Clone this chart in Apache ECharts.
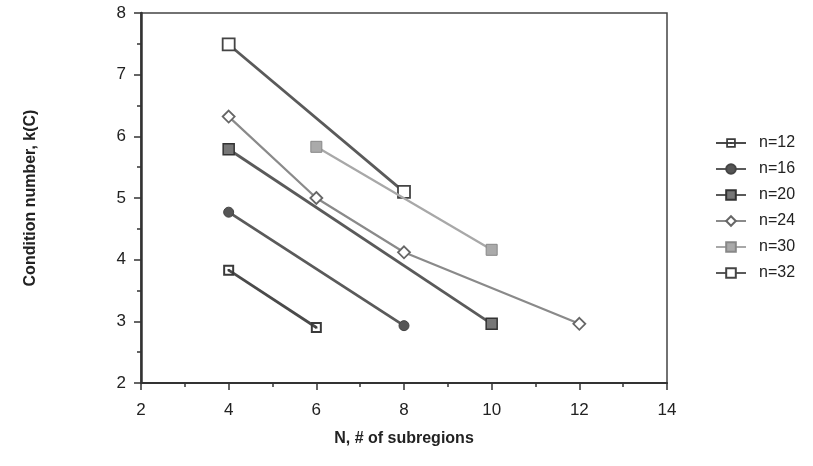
<!DOCTYPE html>
<html>
<head>
<meta charset="utf-8">
<script src="https://cdn.jsdelivr.net/npm/echarts@6/dist/echarts.min.js"></script>
<style>
  html, body { margin: 0; padding: 0; background: #fff; }
  #chart { width: 813px; height: 466px; }
</style>
</head>
<body>
<div id="chart"></div>
<script>
// Condition number k(C) versus number of subregions N, one line per problem size n
const seriesNames = ['n=12', 'n=16', 'n=20', 'n=24', 'n=30', 'n=32'];

const xN12 = [4, 6];
const yN12 = [3.83, 2.90];

const xN16 = [4, 8];
const yN16 = [4.77, 2.93];

const xN20 = [4, 10];
const yN20 = [5.79, 2.96];

const xN24 = [4, 6, 8, 12];
const yN24 = [6.32, 5.00, 4.12, 2.96];

const xN30 = [6, 10];
const yN30 = [5.83, 4.16];

const xN32 = [4, 8];
const yN32 = [7.49, 5.10];

const xTicks = [2, 4, 6, 8, 10, 12, 14];
const yTicks = [2, 3, 4, 5, 6, 7, 8];

const FONT = '"Liberation Sans", Arial, sans-serif';

function pairs(xs, ys) {
  return xs.map((x, i) => [x, ys[i]]);
}

// square outline with a small centre dot
const dotSquare = 'path://M0,0H10V10H0Z M1.8,1.8V8.2H8.2V1.8Z M4,4H6V6H4Z';

const styles = [
  { symbol: dotSquare, size: 11, line: '#4a4a4a', width: 2.8, fill: '#3a3a3a', border: '#3a3a3a', bw: 0 },
  { symbol: 'circle', size: 10, line: '#5a5a5a', width: 2.8, fill: '#555', border: '#444', bw: 1 },
  { symbol: 'rect', size: 11, line: '#5a5a5a', width: 2.8, fill: '#777', border: '#333', bw: 1.5 },
  { symbol: 'diamond', size: 12, line: '#8a8a8a', width: 2.2, fill: '#fff', border: '#666', bw: 1.8 },
  { symbol: 'rect', size: 11, line: '#a8a8a8', width: 2.2, fill: '#aaa', border: '#888', bw: 1 },
  { symbol: 'rect', size: 12, line: '#5a5a5a', width: 2.8, fill: '#fff', border: '#444', bw: 1.8 }
];

const dataSets = [
  pairs(xN12, yN12), pairs(xN16, yN16), pairs(xN20, yN20),
  pairs(xN24, yN24), pairs(xN30, yN30), pairs(xN32, yN32)
];

const series = seriesNames.map((name, i) => {
  const s = styles[i];
  return {
    name: name,
    type: 'line',
    data: dataSets[i],
    symbol: s.symbol,
    symbolSize: s.size,
    showAllSymbol: true,
    lineStyle: { color: s.line, width: s.width },
    itemStyle: { color: s.fill, borderColor: s.border, borderWidth: s.bw },
    z: 10 - i
  };
});

const chart = echarts.init(document.getElementById('chart'), null, { renderer: 'canvas' });

chart.setOption({
  backgroundColor: '#fff',
  animation: false,
  grid: {
    left: 141, right: 146, top: 13, bottom: 83,
    show: true, borderColor: '#444', borderWidth: 1.5, backgroundColor: 'transparent'
  },
  legend: {
    orient: 'vertical',
    left: 710,
    top: 130,
    itemWidth: 30,
    itemHeight: 12,
    itemGap: 10,
    data: seriesNames,
    textStyle: { fontFamily: FONT, fontSize: 16, color: '#222', padding: [0, 0, 0, 8] }
  },
  xAxis: {
    type: 'value',
    min: xTicks[0],
    max: xTicks[xTicks.length - 1],
    interval: 2,
    name: 'N, # of subregions',
    nameLocation: 'middle',
    nameGap: 48,
    nameTextStyle: { fontFamily: FONT, fontSize: 16, fontWeight: 'bold', color: '#222' },
    axisLine: { show: true, lineStyle: { color: '#333', width: 2 } },
    axisTick: { show: true, inside: false, length: 7, lineStyle: { color: '#333', width: 1.5 } },
    minorTick: { show: true, splitNumber: 2, length: 4, lineStyle: { color: '#333', width: 1.5 } },
    splitLine: { show: false },
    axisLabel: { fontFamily: FONT, fontSize: 17, color: '#222', margin: 19 }
  },
  yAxis: {
    type: 'value',
    min: yTicks[0],
    max: yTicks[yTicks.length - 1],
    interval: 1,
    name: 'Condition number, k(C)',
    nameLocation: 'middle',
    nameGap: 102,
    nameTextStyle: { fontFamily: FONT, fontSize: 16, fontWeight: 'bold', color: '#222' },
    axisLine: { show: true, lineStyle: { color: '#333', width: 2.5 } },
    axisTick: { show: true, inside: false, length: 7, lineStyle: { color: '#333', width: 1.5 } },
    minorTick: { show: true, splitNumber: 2, length: 4, lineStyle: { color: '#333', width: 1.5 } },
    splitLine: { show: false },
    axisLabel: { fontFamily: FONT, fontSize: 17, color: '#222', margin: 15 }
  },
  series: series
});
</script>
</body>
</html>
